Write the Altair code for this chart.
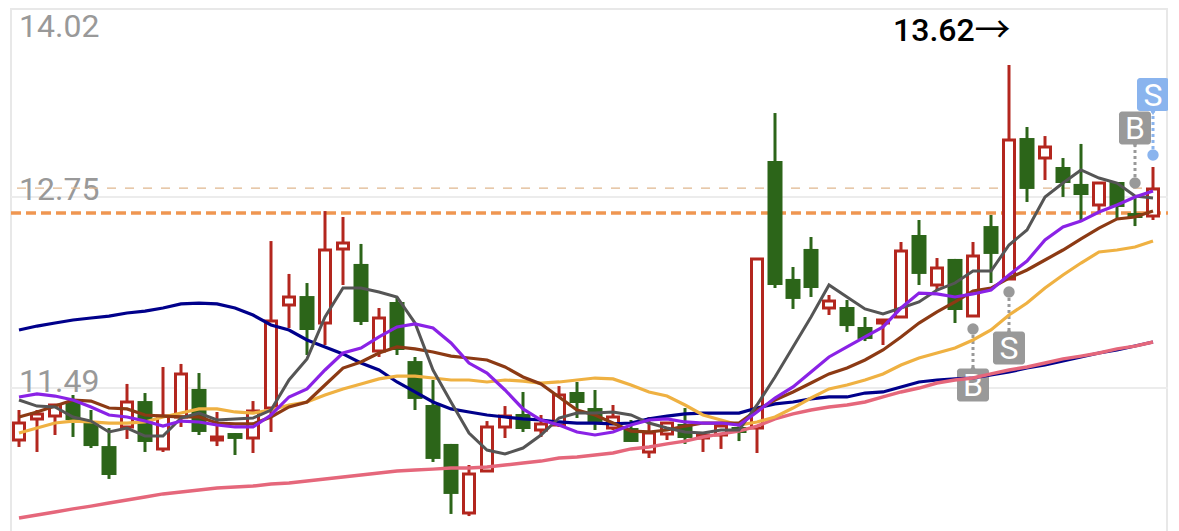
import altair as alt
import pandas as pd

opens = [11.146,11.285,11.304,11.397,11.265,11.106,11.232,11.403,11.087,11.298,11.483,11.146,11.192,11.159,11.357,12.037,
12.096,11.918,12.407,12.308,11.733,12.057,11.667,11.377,11.120,10.664,10.941,11.232,11.318,11.212,11.245,11.463,
11.357,11.225,11.225,11.067,11.186,11.252,11.159,11.179,11.232,11.225,12.987,12.209,12.407,12.017,12.024,11.892,
11.918,11.958,12.499,12.169,12.341,11.964,12.558,12.209,13.139,13.007,12.948,12.836,12.697,12.849,12.644,12.624]
closes = [11.258,11.318,11.377,11.278,11.106,10.915,11.397,11.133,11.304,11.582,11.199,11.166,11.153,11.337,11.931,12.090,
11.872,12.400,12.446,11.925,11.951,11.740,11.417,11.021,10.790,10.922,11.232,11.304,11.219,11.252,11.443,11.390,
11.265,11.298,11.133,11.192,11.258,11.159,11.179,11.238,11.192,12.341,12.169,12.077,12.149,12.063,11.898,11.813,
11.938,12.393,12.242,12.281,12.004,12.360,12.374,13.126,12.803,13.080,12.842,12.763,12.842,12.684,12.611,12.803]
highs = [11.344,11.344,11.384,11.443,11.344,11.225,11.516,11.456,11.628,11.648,11.588,11.331,11.192,11.403,12.459,12.242,
12.182,12.657,12.618,12.440,12.017,12.090,11.694,11.542,11.120,10.981,11.271,11.370,11.463,11.311,11.502,11.529,
11.476,11.377,11.278,11.298,11.265,11.357,11.179,11.245,11.245,12.341,13.304,12.288,12.486,12.103,12.070,11.958,
11.938,12.453,12.598,12.347,12.341,12.453,12.631,13.621,13.212,13.152,13.007,13.100,12.849,12.849,12.743,12.948]
lows = [11.100,11.067,11.179,11.166,11.093,10.889,11.153,11.067,11.067,11.232,11.179,11.106,11.047,11.060,11.199,11.885,
11.707,11.773,12.169,11.905,11.694,11.707,11.344,11.001,10.658,10.644,10.935,11.159,11.199,11.166,11.232,11.291,
11.212,11.212,11.133,11.027,11.146,11.120,11.067,11.087,11.139,11.060,12.149,12.011,12.090,11.971,11.859,11.799,
11.773,11.951,12.169,12.136,11.918,11.958,12.182,12.202,12.717,12.862,12.750,12.585,12.651,12.611,12.558,12.598]

ma_gray = [11.410,11.370,11.364,11.298,11.271,11.199,11.225,11.172,11.172,11.291,11.324,11.278,11.285,11.291,11.344,11.542,
11.681,11.958,12.149,12.149,12.123,12.090,11.918,11.608,11.397,11.192,11.080,11.054,11.093,11.179,11.291,11.324,
11.324,11.331,11.311,11.258,11.225,11.199,11.192,11.212,11.212,11.377,11.562,11.760,11.958,12.169,12.090,12.011,
11.978,12.017,12.057,12.136,12.182,12.261,12.261,12.433,12.532,12.750,12.842,12.928,12.875,12.842,12.756,12.743]
ma_purple = [11.430,11.450,11.436,11.410,11.364,11.311,11.298,11.271,11.238,11.271,11.265,11.245,11.232,11.232,11.311,11.430,
11.483,11.608,11.720,11.753,11.826,11.892,11.912,11.885,11.786,11.654,11.588,11.476,11.351,11.278,11.245,11.199,
11.179,11.199,11.245,11.278,11.285,11.265,11.258,11.258,11.245,11.331,11.423,11.496,11.595,11.694,11.760,11.826,
11.892,12.017,12.116,12.110,12.090,12.110,12.136,12.235,12.327,12.466,12.552,12.591,12.651,12.697,12.750,12.789]
ma_brown = [11.298,11.331,11.370,11.410,11.403,11.357,11.351,11.311,11.304,11.298,11.298,11.258,11.252,11.252,11.298,11.364,
11.397,11.509,11.621,11.661,11.720,11.760,11.747,11.727,11.700,11.687,11.674,11.628,11.562,11.516,11.430,11.344,
11.311,11.258,11.205,11.199,11.212,11.238,11.258,11.258,11.258,11.344,11.410,11.463,11.522,11.582,11.621,11.674,
11.740,11.826,11.918,11.991,12.057,12.129,12.149,12.215,12.268,12.334,12.400,12.473,12.545,12.605,12.618,12.657]
ma_yellow = [11.192,11.225,11.258,11.271,11.265,11.258,11.258,11.265,11.298,11.324,11.351,11.351,11.331,11.324,11.344,11.377,
11.397,11.443,11.483,11.516,11.549,11.568,11.568,11.555,11.542,11.542,11.529,11.542,11.535,11.522,11.529,11.542,
11.555,11.549,11.509,11.463,11.436,11.377,11.311,11.278,11.245,11.265,11.298,11.357,11.423,11.483,11.509,11.542,
11.582,11.641,11.687,11.720,11.753,11.806,11.872,11.971,12.050,12.149,12.235,12.314,12.387,12.400,12.420,12.459]
ma_navy = [11.872,11.898,11.918,11.938,11.951,11.964,11.984,11.997,12.017,12.044,12.050,12.044,12.017,11.971,11.905,11.872,
11.806,11.760,11.714,11.654,11.608,11.529,11.463,11.397,11.351,11.331,11.311,11.298,11.285,11.278,11.265,11.258,
11.258,11.252,11.258,11.285,11.304,11.318,11.324,11.324,11.324,11.357,11.384,11.397,11.417,11.430,11.430,11.456,
11.463,11.496,11.529,11.542,11.549,11.555,11.575,11.595,11.621,11.641,11.667,11.694,11.720,11.740,11.766,11.793]
ma_pink = [10.631,10.651,10.671,10.691,10.710,10.730,10.750,10.770,10.790,10.803,10.816,10.829,10.836,10.842,10.856,10.862,
10.875,10.889,10.902,10.915,10.928,10.941,10.948,10.954,10.961,10.961,10.968,10.981,10.994,11.007,11.027,11.034,
11.047,11.060,11.087,11.100,11.120,11.139,11.166,11.186,11.205,11.238,11.285,11.318,11.344,11.364,11.377,11.397,
11.430,11.463,11.489,11.522,11.542,11.555,11.582,11.608,11.628,11.654,11.681,11.700,11.720,11.747,11.766,11.793]

axis_labels = ["14.02", "12.75", "11.49"]
axis_values = [14.02, 12.75, 11.49]
axis_offsets = [22, -7, -6]
grid_values = [12.75, 11.49]
ref_tan = 12.809
ref_orange = 12.644
max_label = "13.62"
max_arrow = "→"

sig_index = [63, 53, 55, 62]
sig_text = ["S", "B", "S", "B"]
sig_dot = [13.027, 11.879, 12.123, 12.842]
sig_box = [13.426, 11.509, 11.753, 13.205]
sig_tip = [13.310, 11.623, 11.864, 13.095]
sig_color = ["#8ab4ee", "#999999", "#999999", "#999999"]
sig_shape = ["triangle-down", "triangle-up", "triangle-up", "triangle-down"]

RED = "#b3261e"
GREEN = "#2c6519"

idx = list(range(len(opens)))
df = pd.DataFrame({"i": idx, "o": opens, "c": closes, "h": highs, "l": lows,
                   "gray": ma_gray, "purple": ma_purple, "brown": ma_brown,
                   "yellow": ma_yellow, "navy": ma_navy, "pink": ma_pink})
up = df[df.c >= df.o]
down = df[df.c < df.o]

XS = alt.Scale(domain=[-0.6111, 63.8333], nice=False, zero=False, padding=0)
YS = alt.Scale(domain=[10.5454, 13.9972], nice=False, zero=False, padding=0)
X = alt.X("i:Q", axis=None, scale=XS)


def Y(field):
    return alt.Y(f"{field}:Q", axis=None, scale=YS)


layers = []

# frame and grid
frame_v = pd.DataFrame({"i": [-0.444, 63.78]})
layers.append(alt.Chart(frame_v).mark_rule(color="#e8e8e8", strokeWidth=2).encode(x=X))
frame_h = pd.DataFrame({"y": [13.99]})
layers.append(alt.Chart(frame_h).mark_rule(color="#e8e8e8", strokeWidth=2).encode(
    y=Y("y"), x=alt.value(3), x2=alt.value(1160)))
grid = pd.DataFrame({"y": grid_values})
layers.append(alt.Chart(grid).mark_rule(color="#ececec", strokeWidth=2).encode(
    y=Y("y"), x=alt.value(3), x2=alt.value(1160)))

# axis labels
lab = pd.DataFrame({"i": [0] * 3, "y": axis_values, "t": axis_labels, "dy": axis_offsets})
for _, r in lab.iterrows():
    layers.append(alt.Chart(lab[lab.t == r.t]).mark_text(
        align="left", baseline="middle", font="Roboto", fontSize=32, color="#999999",
        dy=int(r.dy)).encode(x=X, y=Y("y"), text="t:N"))

# reference lines
layers.append(alt.Chart(pd.DataFrame({"y": [ref_tan]})).mark_rule(
    color="#e0b78e", strokeWidth=1.2, strokeDash=[9, 9]).encode(y=Y("y"), x=alt.value(9), x2=alt.value(1160)))
layers.append(alt.Chart(pd.DataFrame({"y": [ref_orange]})).mark_rule(
    color="#ef9651", strokeWidth=3.5, strokeDash=[10, 5]).encode(y=Y("y"), x=alt.value(3), x2=alt.value(1160)))

# candles
for frame, col in ((up, RED), (down, GREEN)):
    layers.append(alt.Chart(frame).mark_rule(color=col, strokeWidth=3).encode(
        x=X, y=Y("h"), y2="l:Q"))
layers.append(alt.Chart(up).mark_bar(size=11, fill="white", stroke=RED, strokeWidth=3).encode(
    x=X, y=Y("o"), y2="c:Q"))
layers.append(alt.Chart(down).mark_bar(size=15, fill=GREEN).encode(
    x=X, y=Y("o"), y2="c:Q"))

# trade signals
sig = pd.DataFrame({"i": sig_index, "t": sig_text, "dot": sig_dot, "box": sig_box,
                    "tip": sig_tip, "col": sig_color, "shape": sig_shape})
colour = alt.Color("col:N", scale=None, legend=None)
layers.append(alt.Chart(sig).mark_rule(strokeWidth=3, strokeDash=[3, 3]).encode(
    x=X, y=Y("dot"), y2="tip:Q", color=colour))
layers.append(alt.Chart(sig).mark_point(filled=True, size=130, opacity=1).encode(
    x=X, y=Y("dot"), color=colour))
layers.append(alt.Chart(sig).mark_point(filled=True, size=50, opacity=1).encode(
    x=X, y=Y("tip"), color=colour,
    shape=alt.Shape("shape:N", scale=None, legend=None)))
layers.append(alt.Chart(sig).mark_rect(width=32, height=33, cornerRadius=3).encode(
    x=X, y=Y("box"), color=colour))
layers.append(alt.Chart(sig).mark_text(font="Roboto", fontSize=32, color="white",
                                       baseline="middle", align="center", dy=1).encode(
    x=X, y=Y("box"), text="t:N"))

# moving averages
for name, col, w in (("navy", "#00008b", 3.2), ("pink", "#e5677b", 3.4), ("yellow", "#efb142", 3.2),
                     ("brown", "#8c3a14", 3.2), ("gray", "#555555", 3), ("purple", "#8a22e6", 3.2)):
    layers.append(alt.Chart(df).mark_line(color=col, strokeWidth=w).encode(
        x=X, y=Y(name)))

# maximum label
layers.append(alt.Chart(pd.DataFrame({"i": [48.56], "y": [13.845], "t": [max_label]})).mark_text(
    font="Roboto", fontSize=32, color="black", baseline="middle", align="left", fontWeight=500).encode(
    x=X, y=Y("y"), text="t:N"))
layers.append(alt.Chart(pd.DataFrame({"i": [53.08], "y": [13.84], "t": [max_arrow]})).mark_text(
    font="Noto Sans CJK SC", fontSize=36, color="black", baseline="middle", align="left").encode(
    x=X, y=Y("y"), text="t:N"))

chart = alt.layer(*layers).properties(
    width=1160, height=523, padding=0,
    autosize=alt.AutoSizeParams(type="none"),
    background="white",
).configure_view(stroke=None)

chart.save("out.html", embed_options={"renderer": "svg", "actions": False})
